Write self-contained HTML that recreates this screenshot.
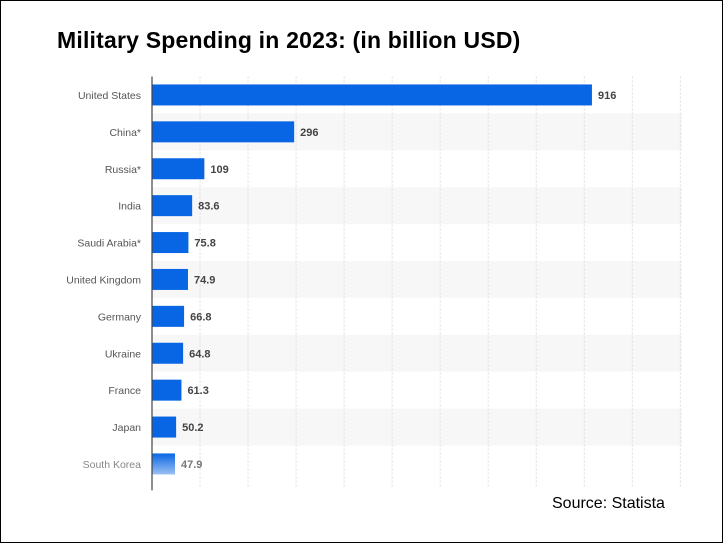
<!DOCTYPE html>
<html><head><meta charset="utf-8"><style>
html,body{margin:0;padding:0;background:#fff}
#wrap{position:relative;width:721px;height:541px;border:1px solid #000;overflow:hidden}
#title{position:absolute;left:56px;top:26px;font:bold 23px "Liberation Sans",sans-serif;color:#000;letter-spacing:0.2px}
#source{position:absolute;left:551px;top:494px;font:16px "Liberation Sans",sans-serif;color:#000}
svg text{font-family:"Liberation Sans",sans-serif}
</style></head><body>
<div id="wrap">
<div id="title">Military Spending in 2023: (in billion USD)</div>
<svg id="chart" width="721" height="541" style="position:absolute;left:0;top:0">
<defs><linearGradient id="fade" x1="0" y1="0" x2="0" y2="1"><stop offset="0" stop-color="#0866e4"/><stop offset="1" stop-color="#9cc0f3"/></linearGradient></defs>
</svg>
<div id="source">Source: Statista</div>
</div>
<script>
const categories=["United States","China*","Russia*","India","Saudi Arabia*","United Kingdom","Germany","Ukraine","France","Japan","South Korea"];
const values=[916,296,109,83.6,75.8,74.9,66.8,64.8,61.3,50.2,47.9];
const valueLabels=["916","296","109","83.6","75.8","74.9","66.8","64.8","61.3","50.2","47.9"];
const gridTicks=[100,200,300,400,500,600,700,800,900,1000,1100];
const svg=document.getElementById('chart');
const NS='http://www.w3.org/2000/svg';
const x0=151,pxPer=0.4803,top0=75.5,rowH=36.9,plotRight=681;
const x=v=>x0+v*pxPer;
const y=i=>top0+i*rowH;
function mk(t,a){const e=document.createElementNS(NS,t);for(const k in a)e.setAttribute(k,a[k]);svg.appendChild(e);return e;}
categories.forEach((c,i)=>{if(i%2===1){const b=mk('rect',{x:x0,y:y(i),width:plotRight-x0,height:rowH,fill:'#f7f7f7'});

}});
gridTicks.forEach(t=>{const l=mk('line',{x1:x(t),x2:x(t),y1:top0,y2:y(categories.length)+4,stroke:'#ddd','stroke-dasharray':'2,2','stroke-width':1});

});
categories.forEach((c,i)=>{
 const cy=y(i)+rowH/2;const last=i===categories.length-1;
 const r=mk('rect',{x:x0,y:cy-10.5,width:x(values[i])-x0,height:21,fill:last?'url(#fade)':'#0866e4'});
 
 
 const lb=mk('text',{x:140,y:cy+4,'text-anchor':'end','font-size':'10.5',fill:last?'#888':'#555'});lb.textContent=c;
 
 
 const vl=mk('text',{x:x(values[i])+6,y:cy+4,'font-size':'11','font-weight':'bold',fill:last?'#777':'#444'});vl.textContent=valueLabels[i];
 
 
});
const ax=mk('line',{x1:x0,x2:x0,y1:top0,y2:y(categories.length)+8,stroke:'#444','stroke-width':1.2});


</script>
</body></html>
